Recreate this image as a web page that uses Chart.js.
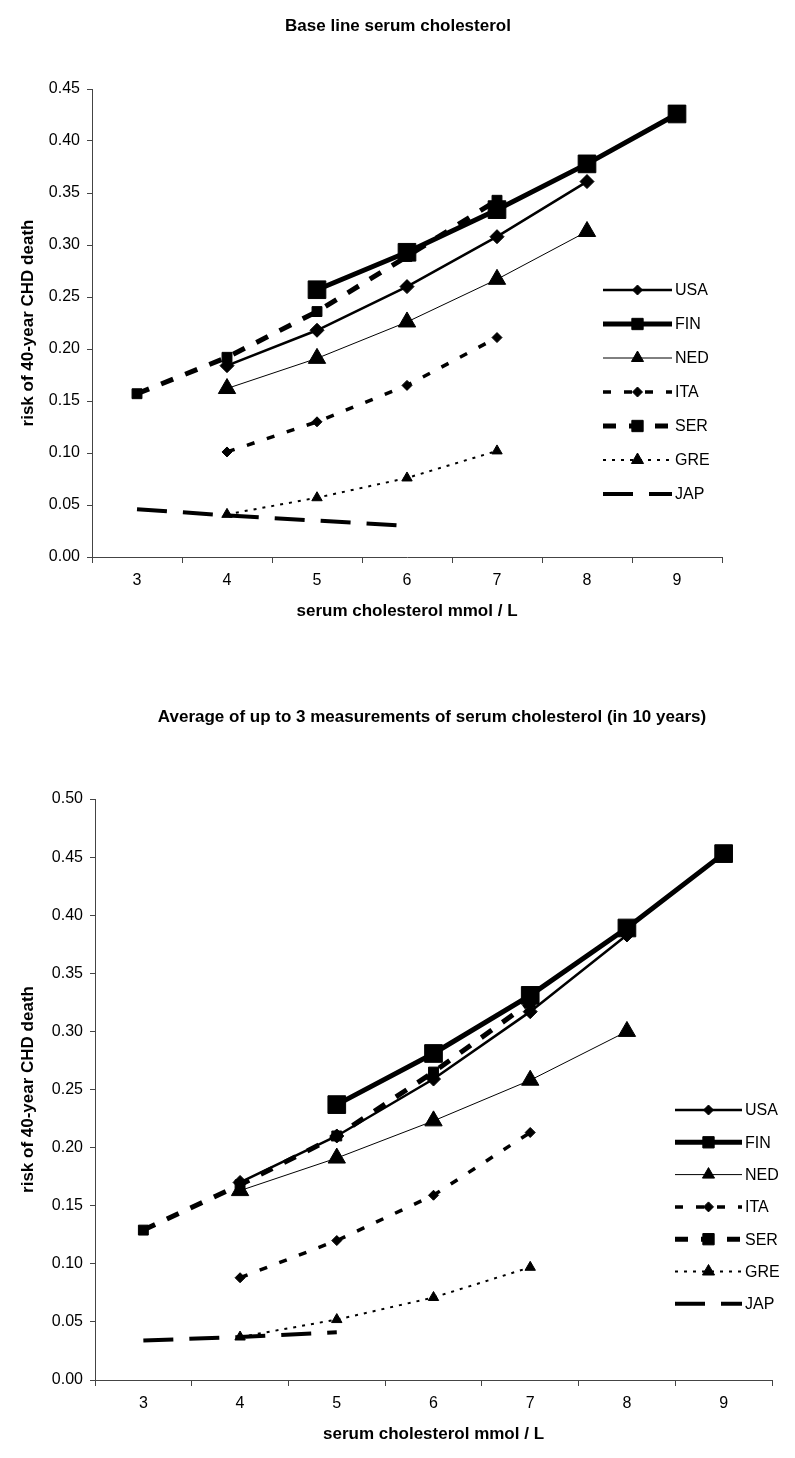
<!DOCTYPE html>
<html>
<head>
<meta charset="utf-8">
<script src="https://cdn.jsdelivr.net/npm/chart.js@4.4.1/dist/chart.umd.min.js"></script>
<style>
  html, body { margin: 0; padding: 0; background: #fff; }
  body { width: 795px; height: 1458px; position: relative; overflow: hidden; }
  canvas { position: absolute; left: 0; }
  #c1 { top: 0; }
  #c2 { top: 680px; }
</style>
</head>
<body>
<canvas id="c1" width="795" height="640"></canvas>
<canvas id="c2" width="795" height="778"></canvas>
<script>
// ---- data ----
const categories = ['3', '4', '5', '6', '7', '8', '9'];
const countries = ['USA', 'FIN', 'NED', 'ITA', 'SER', 'GRE', 'JAP'];

// Base line serum cholesterol
const usaBase = [null, 0.184, 0.218, 0.260, 0.308, 0.361, null];
const finBase = [null, null, 0.257, 0.293, 0.334, 0.378, 0.426];
const nedBase = [null, 0.162, 0.191, 0.226, 0.267, 0.313, null];
const itaBase = [null, 0.101, 0.130, 0.165, 0.211, null, null];
const serBase = [0.157, 0.192, 0.236, 0.289, 0.343, null, null];
const greBase = [null, 0.041, 0.057, 0.076, 0.102, null, null];
const japBase = [0.046, 0.040, 0.035, 0.030, null, null, null];

// Average of up to 3 measurements (in 10 years)
const usaAvg = [null, 0.170, 0.210, 0.259, 0.317, 0.383, null];
const finAvg = [null, null, 0.237, 0.281, 0.331, 0.389, 0.453];
const nedAvg = [null, 0.163, 0.191, 0.223, 0.258, 0.300, null];
const itaAvg = [null, 0.088, 0.120, 0.159, 0.213, null, null];
const serAvg = [0.129, 0.168, 0.210, 0.265, 0.325, null, null];
const greAvg = [null, 0.037, 0.052, 0.071, 0.097, null, null];
const japAvg = [0.034, 0.037, 0.041, null, null, null, null];

const titleTop = 'Base line serum cholesterol';
const titleBottom = 'Average of up to 3 measurements of serum cholesterol (in 10 years)';
const xTitle = 'serum cholesterol mmol / L';
const yTitle = 'risk of 40-year CHD death';

// ---- styles ----
const FONT = "'Liberation Sans', Arial, sans-serif";
const styles = [
  { borderWidth: 2.5, borderDash: [],       pointStyle: 'rectRot',  radius: 7,  legendRadius: 5 },
  { borderWidth: 5,   borderDash: [],       pointStyle: 'rect',     radius: 12.5, legendRadius: 8 },
  { borderWidth: 1,   borderDash: [],       pointStyle: 'triangle', radius: 10, legendRadius: 7 },
  { borderWidth: 3.5, borderDash: [8, 13],  pointStyle: 'rectRot',  radius: 5,  legendRadius: 5 },
  { borderWidth: 5,   borderDash: [13, 13], pointStyle: 'rect',     radius: 7,  legendRadius: 8 },
  { borderWidth: 2,   borderDash: [3, 6],   pointStyle: 'triangle', radius: 6,  legendRadius: 7 },
  { borderWidth: 4,   borderDash: [30, 16], pointStyle: false,      radius: 0,  legendRadius: 0 }
];

function makeDatasets(series) {
  return series.map((vals, i) => ({
    label: countries[i],
    data: vals,
    borderColor: '#000',
    backgroundColor: '#000',
    borderWidth: styles[i].borderWidth,
    borderDash: styles[i].borderDash,
    borderCapStyle: 'butt',
    pointStyle: styles[i].pointStyle,
    pointRadius: styles[i].radius,
    pointHoverRadius: styles[i].radius,
    pointBackgroundColor: '#000',
    pointBorderColor: '#000',
    pointBorderWidth: 1,
    tension: 0,
    spanGaps: false,
    fill: false,
    order: 10 - i,
    legendRadius: styles[i].legendRadius
  }));
}

const legendPlugin = {
  id: 'sideLegend',
  afterDraw(chart) {
    const o = chart.options.plugins.sideLegend;
    const ctx = chart.ctx;
    ctx.save();
    chart.data.datasets.forEach((ds, i) => {
      const y = o.y0 + i * o.dy;
      ctx.strokeStyle = '#000';
      ctx.fillStyle = '#000';
      ctx.lineWidth = ds.borderWidth;
      ctx.lineCap = 'butt';
      ctx.setLineDash(ds.borderDash || []);
      ctx.beginPath();
      ctx.moveTo(o.x1, y);
      ctx.lineTo(o.x2, y);
      ctx.stroke();
      ctx.setLineDash([]);
      if (ds.pointStyle) {
        ctx.lineWidth = 1;
        Chart.helpers.drawPoint(ctx, { pointStyle: ds.pointStyle, radius: ds.legendRadius, borderWidth: 1, rotation: 0 }, (o.x1 + o.x2) / 2, y);
      }
      ctx.fillStyle = '#000';
      ctx.font = '16px ' + FONT;
      ctx.textAlign = 'left';
      ctx.textBaseline = 'middle';
      ctx.fillText(ds.label, o.x2 + 3, y + 1);
    });
    ctx.restore();
  }
};

const titlePlugin = {
  id: 'fixedTitle',
  afterDraw(chart) {
    const o = chart.options.plugins.fixedTitle;
    const ctx = chart.ctx;
    ctx.save();
    ctx.fillStyle = '#000';
    ctx.font = 'bold 17px ' + FONT;
    ctx.textAlign = 'center';
    ctx.textBaseline = 'middle';
    ctx.fillText(o.text, o.x, o.y);
    ctx.restore();
  }
};

function makeChart(id, series, cfg) {
  return new Chart(document.getElementById(id), {
    type: 'line',
    data: { labels: categories, datasets: makeDatasets(series) },
    plugins: [legendPlugin, titlePlugin],
    options: {
      responsive: false,
      animation: false,
      devicePixelRatio: 1,
      layout: { padding: { left: 0, right: cfg.padRight, top: cfg.padTop, bottom: cfg.padBottom } },
      plugins: {
        legend: { display: false },
        tooltip: { enabled: false },
        title: { display: false },
        sideLegend: cfg.legend,
        fixedTitle: cfg.title
      },
      scales: {
        x: {
          type: 'category',
          offset: true,
          grid: { offset: true, drawOnChartArea: false, drawTicks: true, tickLength: 6, color: '#444', lineWidth: 1 },
          border: { display: true, color: '#444', width: 1 },
          ticks: { padding: 8, color: '#000', font: { family: FONT, size: 16 }, maxRotation: 0, autoSkip: false },
          title: { display: true, text: xTitle, color: '#000', font: { family: FONT, size: 17, weight: 'bold' }, padding: { top: 0, bottom: 10 } },
          afterFit: s => { s.height = 75; }
        },
        y: {
          min: 0,
          max: cfg.yMax,
          grid: { drawOnChartArea: false, drawTicks: true, tickLength: 5, color: '#444', lineWidth: 1 },
          border: { display: true, color: '#444', width: 1 },
          ticks: { stepSize: 0.05, padding: 7, color: '#000', font: { family: FONT, size: 16 },
                   callback: v => Number(v).toFixed(2) },
          title: { display: true, text: yTitle, color: '#000', font: { family: FONT, size: 17, weight: 'bold' }, padding: { top: 18, bottom: 0 } },
          afterFit: s => { s.width = cfg.yWidth; }
        }
      }
    }
  });
}

makeChart('c1', [usaBase, finBase, nedBase, itaBase, serBase, greBase, japBase], {
  padRight: 73, padTop: 89, padBottom: 8, yMax: 0.45, yWidth: 92,
  legend: { x1: 603, x2: 672, y0: 290, dy: 34 },
  title: { text: titleTop, x: 398, y: 26 }
});

makeChart('c2', [usaAvg, finAvg, nedAvg, itaAvg, serAvg, greAvg, japAvg], {
  padRight: 23, padTop: 119, padBottom: 3, yMax: 0.50, yWidth: 95,
  legend: { x1: 675, x2: 742, y0: 430, dy: 32.3 },
  title: { text: titleBottom, x: 432, y: 37 }
});
</script>
</body>
</html>
